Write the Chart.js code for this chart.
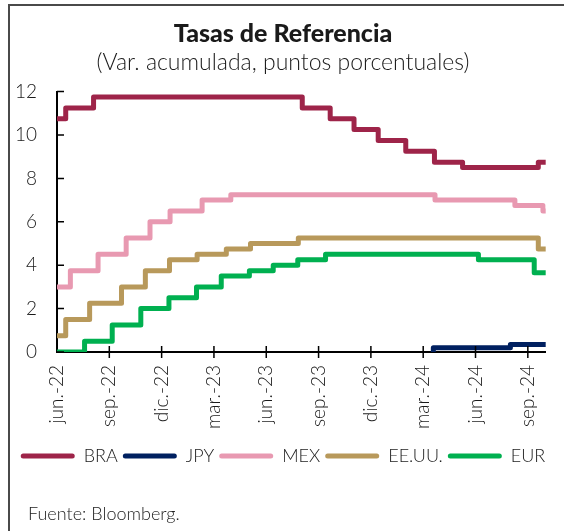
<!DOCTYPE html>
<html><head><meta charset="utf-8">
<script src="https://cdn.jsdelivr.net/npm/chart.js@4/dist/chart.umd.min.js"></script>
<style>
html,body{margin:0;padding:0;background:#fff;}
#wrap{position:relative;width:564px;height:531px;overflow:hidden;background:#fff;}
#c{position:absolute;left:12px;top:0;}
#frame{position:absolute;left:8px;top:4px;right:-4px;bottom:-4px;border-left:2px solid #4a4a4a;border-top:2px solid #4a4a4a;pointer-events:none;}
#src{position:absolute;left:28px;top:502px;font:300 18px Lato, sans-serif;color:#222;white-space:nowrap;}
</style></head>
<body><div id="wrap"><canvas id="c" width="552" height="531"></canvas><div id="frame"></div><div id="src">Fuente: Bloomberg.</div></div>
<script>
// ---- data ----
const seriesNames = ['BRA', 'JPY', 'MEX', 'EE.UU.', 'EUR'];
const tickLabels = ['jun.-22','sep.-22','dic.-22','mar.-23','jun.-23','sep.-23','dic.-23','mar.-24','jun.-24','sep.-24'];
const yTickValues = [0, 2, 4, 6, 8, 10, 12];
const startDate = '2022-06-01';
const endDate = '2024-10-02';

const braDates  = ['2022-06-01','2022-06-16','2022-08-04','2023-08-03','2023-09-21','2023-11-02','2023-12-14','2024-02-01','2024-03-21','2024-05-09','2024-09-19', endDate];
const braValues = [10.75, 11.25, 11.75, 11.25, 10.75, 10.25, 9.75, 9.25, 8.75, 8.5, 8.75, 8.75];

const jpyDates  = ['2024-03-15','2024-03-19','2024-08-01', endDate];
const jpyValues = [0, 0.2, 0.35, 0.35];

const mexDates  = ['2022-06-01','2022-06-24','2022-08-12','2022-09-30','2022-11-11','2022-12-16','2023-02-10','2023-03-31','2024-03-22','2024-08-09','2024-09-27', endDate];
const mexValues = [3.0, 3.75, 4.5, 5.25, 6.0, 6.5, 7.0, 7.25, 7.0, 6.75, 6.5, 6.5];

const usaDates  = ['2022-06-01','2022-06-16','2022-07-28','2022-09-22','2022-11-03','2022-12-15','2023-02-02','2023-03-23','2023-05-04','2023-07-27','2024-09-19', endDate];
const usaValues = [0.75, 1.5, 2.25, 3.0, 3.75, 4.25, 4.5, 4.75, 5.0, 5.25, 4.75, 4.75];

const eurDates  = ['2022-06-01','2022-07-19','2022-09-06','2022-10-26','2022-12-14','2023-02-01','2023-03-14','2023-05-02','2023-06-13','2023-07-26','2023-09-13','2024-06-06','2024-09-12', endDate];
const eurValues = [0, 0.5, 1.25, 2.0, 2.5, 3.0, 3.5, 3.75, 4.0, 4.25, 4.5, 4.25, 3.65, 3.65];

const colors = ['#9E2449', '#002060', '#E899B1', '#B8995B', '#00B050'];

// ---- helpers ----
function monthsSince(d) {
  const [y, m, day] = d.split('-').map(Number);
  const [y0, m0] = startDate.split('-').map(Number);
  const dim = new Date(y, m, 0).getDate();
  return (y - y0) * 12 + (m - m0) + (day - 1) / dim;
}
function pts(dates, vals) { return dates.map((d, i) => ({x: monthsSince(d), y: vals[i]})); }

const seriesData = [pts(braDates, braValues), pts(jpyDates, jpyValues), pts(mexDates, mexValues), pts(usaDates, usaValues), pts(eurDates, eurValues)];

const FONT = 'Lato, "Open Sans", sans-serif';
const TXT = '#1a1a1a';

const tickMarks = {
  id: 'tickMarks',
  afterDatasetsDraw(chart) {
    const ctx = chart.ctx, xs = chart.scales.x, ys = chart.scales.y;
    const y0 = ys.getPixelForValue(0), x0 = xs.getPixelForValue(0);
    ctx.save();
    ctx.strokeStyle = '#000';
    ctx.lineWidth = 1.5;
    ctx.beginPath();
    tickLabels.forEach((_, i) => {
      if (i === 0) return;
      const px = xs.getPixelForValue(i * 3);
      ctx.moveTo(px, y0 - 6); ctx.lineTo(px, y0 + 6);
    });
    yTickValues.forEach(v => {
      const py = ys.getPixelForValue(v);
      ctx.moveTo(x0, py); ctx.lineTo(x0 + 7, py);
    });
    ctx.stroke();
    ctx.restore();
  }
};

new Chart(document.getElementById('c'), {
  type: 'line',
  data: {
    datasets: seriesNames.map((n, i) => ({
      label: n,
      data: seriesData[i],
      borderColor: colors[i],
      backgroundColor: colors[i],
      borderWidth: 5,
      stepped: 'before',
      pointRadius: 0,
      fill: false,
      borderJoinStyle: 'round',
      borderCapStyle: 'butt'
    }))
  },
  options: {
    responsive: false,
    animation: false,
    devicePixelRatio: 1,
    layout: {padding: {left: 0, right: 10, top: 0, bottom: 56}},
    plugins: {
      title: {display: true, text: 'Tasas de Referencia', color: TXT,
        font: {family: FONT, size: 25, weight: '900'}, padding: {top: 19, bottom: 0}},
      subtitle: {display: true, text: '(Var. acumulada, puntos porcentuales)', color: TXT,
        font: {family: FONT, size: 23, weight: '300'}, padding: {top: 0, bottom: 15}},
      legend: {position: 'bottom', align: 'center',
        labels: {boxWidth: 54, boxHeight: 5, useBorderRadius: true, borderRadius: 2.5, padding: 5,
          color: TXT, font: {family: FONT, size: 18, weight: '300'},
          generateLabels: chart => Chart.defaults.plugins.legend.labels.generateLabels(chart)
            .map(l => Object.assign(l, {lineWidth: 0, strokeStyle: 'transparent'}))}},
      tooltip: {enabled: false}
    },
    scales: {
      x: {
        type: 'linear', min: 0, max: monthsSince(endDate),
        afterBuildTicks: s => { s.ticks = tickLabels.map((_, i) => ({value: i * 3})); },
        afterFit: s => { s.height = 90; },
        ticks: {autoSkip: false, minRotation: 90, maxRotation: 90, padding: 13, color: TXT,
          font: {family: FONT, size: 19, weight: '300'},
          callback: v => tickLabels[Math.round(v / 3)]},
        grid: {display: false, drawTicks: false},
        border: {display: true, color: '#000', width: 2}
      },
      y: {
        min: 0, max: 12,
        afterBuildTicks: s => { s.ticks = yTickValues.map(v => ({value: v})); },
        afterFit: s => { s.width = 45; },
        ticks: {padding: 20, color: TXT, font: {family: FONT, size: 19, weight: '300'},
          callback: v => String(v)},
        grid: {display: false, drawTicks: false},
        border: {display: true, color: '#000', width: 2}
      }
    }
  },
  plugins: [tickMarks]
});
</script>
</body></html>
